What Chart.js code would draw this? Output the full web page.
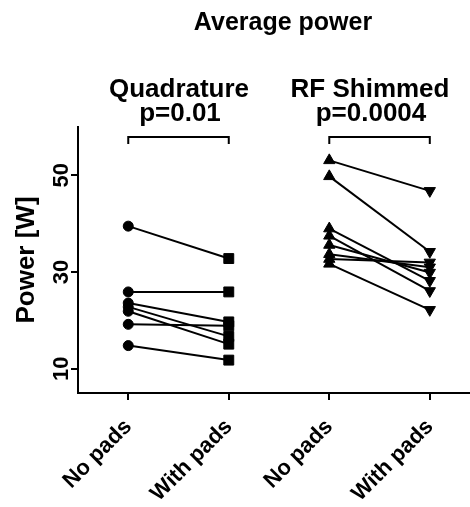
<!DOCTYPE html>
<html lang="en">
<head>
    <meta charset="UTF-8">
    <title>Average power</title>
    <script src="https://cdn.jsdelivr.net/npm/chart.js"></script>
    <style>
        body { margin: 0; background: #fff; }
        #wrap { width: 470px; height: 507px; }
    </style>
</head>
<body>
    <div id="wrap"><canvas id="powerChart" width="470" height="507"></canvas></div>
    <script>
        // categories along the x axis
        const categories = ['No pads', 'With pads', 'No pads', 'With pads'];
        const yTicks = [10, 30, 50];

        // paired measurements (before, after)
        const quadNoPads   = [39.5, 25.9, 23.6, 22.8, 21.9, 19.2, 14.8];
        const quadWithPads = [32.8, 25.9, 19.7, 16.7, 15.1, 18.9, 11.8];
        const rfNoPads     = [53.1, 49.8, 39.0, 37.5, 35.6, 33.7, 32.7, 31.7];
        const rfWithPads   = [46.8, 34.2, 28.2, 26.1, 29.9, 31.0, 32.0, 22.2];

        const groups = [
            { title: 'Quadrature', p: 'p=0.01', from: 0, to: 1, cx: 179 },
            { title: 'RF Shimmed', p: 'p=0.0004', from: 2, to: 3, cx: 370 }
        ];

        const datasets = [];
        quadNoPads.forEach(function (v, i) {
            datasets.push({
                data: [{ x: 0, y: v }, { x: 1, y: quadWithPads[i] }],
                pointStyle: ['circle', 'rect'],
                pointRadius: [5, 7],
                pointRotation: [0, 0]
            });
        });
        rfNoPads.forEach(function (v, i) {
            datasets.push({
                data: [{ x: 2, y: v }, { x: 3, y: rfWithPads[i] }],
                pointStyle: ['triangle', 'triangle'],
                pointRadius: [6.5, 6.5],
                pointRotation: [0, 180]
            });
        });
        datasets.forEach(function (d) {
            d.showLine = true;
            d.borderColor = '#000';
            d.backgroundColor = '#000';
            d.borderWidth = 2;
            d.pointBorderWidth = 1;
            d.clip = false;
        });

        const FONT = '"Liberation Sans", Arial, sans-serif';

        // titles, brackets and vertical y tick labels
        const annotations = {
            id: 'annotations',
            afterDraw(chart) {
                const ctx = chart.ctx;
                const xs = chart.scales.x;
                const ys = chart.scales.y;
                ctx.save();
                ctx.fillStyle = '#000';
                ctx.strokeStyle = '#000';
                ctx.textAlign = 'center';
                ctx.textBaseline = 'alphabetic';

                ctx.font = 'bold 25px ' + FONT;
                ctx.fillText('Average power', 283, 30);

                groups.forEach(function (g) {
                    const x1 = xs.getPixelForValue(g.from);
                    const x2 = xs.getPixelForValue(g.to);
                    ctx.font = 'bold 26px ' + FONT;
                    ctx.fillText(g.title, g.cx, 97);
                    ctx.fillText(g.p, g.cx + 1, 121);
                    ctx.lineWidth = 2;
                    ctx.beginPath();
                    ctx.moveTo(x1, 144);
                    ctx.lineTo(x1, 137);
                    ctx.lineTo(x2, 137);
                    ctx.lineTo(x2, 144);
                    ctx.stroke();
                });

                ctx.textBaseline = 'middle';
                ctx.font = 'bold 22px ' + FONT;
                yTicks.forEach(function (t) {
                    const y = ys.getPixelForValue(t);
                    ctx.save();
                    ctx.translate(62, y);
                    ctx.rotate(-Math.PI / 2);
                    ctx.fillText(String(t), 0, 0);
                    ctx.restore();
                });

                ctx.font = 'bold 26px ' + FONT;
                ctx.save();
                ctx.translate(27, (ys.top + ys.bottom) / 2);
                ctx.rotate(-Math.PI / 2);
                ctx.fillText('Power [W]', 0, 0);
                ctx.restore();
                ctx.restore();
            }
        };

        new Chart(document.getElementById('powerChart'), {
            type: 'scatter',
            data: { datasets: datasets },
            options: {
                responsive: false,
                animation: false,
                layout: { autoPadding: false, padding: { top: 127, left: 0, right: 0, bottom: 0 } },
                plugins: { legend: { display: false }, tooltip: { enabled: false } },
                scales: {
                    x: {
                        type: 'linear',
                        min: -0.5,
                        max: 3.4,
                        afterBuildTicks: function (scale) {
                            scale.ticks = categories.map(function (c, i) { return { value: i }; });
                        },
                        afterFit: function (scale) {
                            scale.height = 114;
                            scale.paddingLeft = 0;
                            scale.paddingRight = 0;
                        },
                        border: { display: true, color: '#000', width: 2 },
                        grid: { drawOnChartArea: false, drawTicks: true, tickLength: 7, tickColor: '#000', lineWidth: 2 },
                        ticks: {
                            autoSkip: false,
                            minRotation: 45,
                            maxRotation: 45,
                            padding: 14,
                            color: '#000',
                            font: { family: FONT, size: 22, weight: 'bold' },
                            callback: function (v) { return categories[v]; }
                        }
                    },
                    y: {
                        min: 5,
                        max: 60,
                        afterBuildTicks: function (scale) {
                            scale.ticks = yTicks.map(function (t) { return { value: t }; });
                        },
                        afterFit: function (scale) {
                            scale.width = 78;
                            scale.paddingTop = 0;
                            scale.paddingBottom = 0;
                        },
                        border: { display: true, color: '#000', width: 2 },
                        grid: { drawOnChartArea: false, drawTicks: true, tickLength: 7, tickColor: '#000', lineWidth: 2 },
                        ticks: { display: false }
                    }
                }
            },
            plugins: [annotations]
        });
    </script>
</body>
</html>
